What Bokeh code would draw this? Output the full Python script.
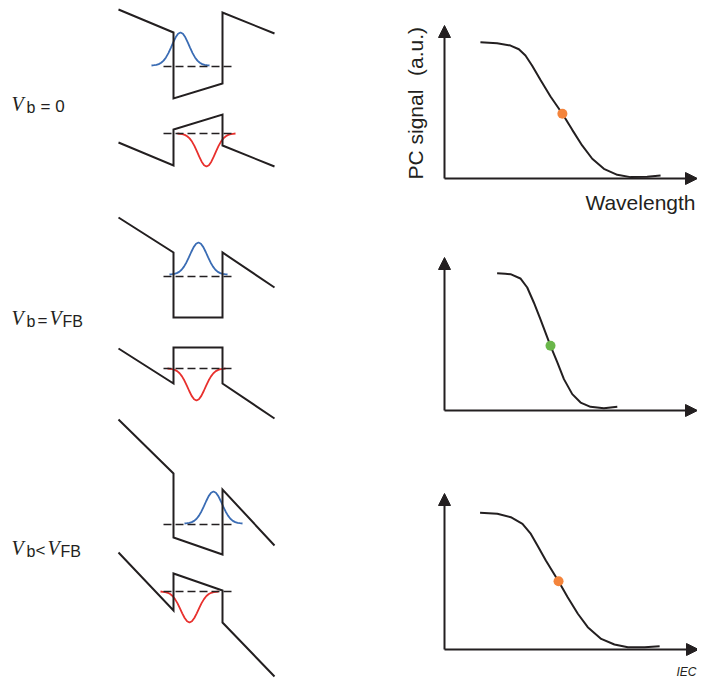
from math import pi
from bokeh.plotting import figure
from bokeh.models import Range1d, Arrow, NormalHead
from bokeh.core.properties import value
from bokeh.embed import file_html
from bokeh.resources import INLINE

# ---------------- data ----------------
# Band-edge diagrams (three bias cases), page-pixel scale of the schematic
BAND_X = [118, 173, 173, 222, 222, 274]
CB_LEVELS = [
    [9, 32, 98, 83, 12, 33],
    [217, 252, 317, 317, 252, 287],
    [419, 473, 537, 554, 489, 545],
]
VB_LEVELS = [
    [142, 165, 129, 114, 145, 166],
    [348, 383, 347, 347, 383, 418],
    [552, 610, 573, 590, 622, 676],
]
FERMI_X = [163, 233]
FERMI_CB = [66, 276, 524]
FERMI_VB = [133, 368, 591]

# wavefunction envelope (relative amplitude across the packet)
WF_PROFILE = [0.0, 0.009, 0.02, 0.042, 0.082, 0.147, 0.245, 0.376, 0.535, 0.703, 0.855, 0.961, 1.0,
              0.961, 0.855, 0.703, 0.535, 0.376, 0.245, 0.147, 0.082, 0.042, 0.02, 0.009, 0.0]
WF_HALF_WIDTH = 29
ELECTRON_CENTER = [180, 198, 213]
ELECTRON_BASE = [65, 274, 523]
ELECTRON_AMP = [33, 32, 32]
HOLE_CENTER = [206, 196, 189]
HOLE_BASE = [133, 368, 591]
HOLE_AMP = [33, 32, 31]

# PC signal vs wavelength (axis units, 0..100)
WAVELENGTH = [
    [14.2, 20.8, 26.1, 29.4, 32.0, 34.6, 37.9, 41.9, 46.6, 50.5, 54.4, 58.4, 63.0, 68.3, 73.5, 80.1, 85.4],
    [20.8, 24.0, 26.1, 30.0, 32.7, 35.3, 37.9, 41.9, 44.6, 47.2, 50.5, 53.8, 57.7, 63.0, 68.3],
    [14.0, 20.8, 26.1, 30.7, 34.0, 36.6, 39.9, 44.9, 48.5, 52.5, 56.4, 61.7, 66.9, 72.2, 78.8, 84.7],
]
PC_SIGNAL = [
    [89.1, 88.4, 86.9, 84.5, 80.4, 73.9, 64.5, 53.6, 42.3, 31.8, 21.6, 12.9, 6.3, 2.4, 0.9, 1.1, 2.0],
    [89.7, 89.4, 89.1, 86.3, 80.4, 70.6, 59.7, 42.3, 31.4, 20.5, 10.7, 5.2, 2.4, 1.5, 2.4],
    [87.6, 87.0, 84.8, 80.6, 74.1, 66.7, 57.1, 43.8, 33.5, 22.9, 14.3, 6.8, 3.2, 1.5, 1.5, 2.1],
]
MARK_WAVELENGTH = [46.6, 41.9, 44.9]
MARK_SIGNAL = [42.3, 42.3, 43.8]
MARK_COLOR = ["#f4843b", "#6ab74a", "#f4843b"]

PANEL_ORIGIN = [(444, 178), (444, 410), (444, 649)]
PANEL_XLEN = [253, 253, 254]
PANEL_YLEN = [153, 153, 156]

BIAS_BASELINE = [111, 325, 555]
BIAS_RELATION = ["= 0", "=", "<"]
REL_X = [40, 37, 35]
V2_X = [0, 49, 47]
FB_X = [0, 62, 60]
X_LABEL = "Wavelength"
Y_LABEL_MAIN = "PC signal"
Y_LABEL_UNIT = "(a.u.)"

# ---------------- drawing ----------------
INK = "#231f20"
BLUE = "#3a6cb4"
RED = "#e8302d"
SANS = value("Liberation Sans")
SERIF = value("Liberation Serif")

X0, X1, Y0, Y1 = 0, 697, 678, 0
p = figure(width=697, height=678, x_range=Range1d(X0, X1), y_range=Range1d(Y0, Y1),
           toolbar_location=None, output_backend="svg", x_axis_type=None, y_axis_type=None,
           min_border=0, outline_line_color=None, background_fill_color="white",
           border_fill_color="white")
p.grid.visible = False


def label(x, y, s, size, font=SANS, style="normal", align="left", angle=0.0):
    # text renders ~0.37 em below its alphabetic anchor; compensate along glyph "down"
    off = 0.37 * size
    if angle:
        x = x - off
    else:
        y = y - off
    p.text([x], [y], text=[s], text_font=font, text_font_style=style,
           text_font_size=f"{size}px", text_color=INK, text_align=align,
           text_baseline="alphabetic", angle=angle)


t_grid = [(k - 12) / 12 for k in range(25)]

for i in range(3):
    # wavefunctions
    ex = [ELECTRON_CENTER[i] + WF_HALF_WIDTH * t for t in t_grid]
    ey = [ELECTRON_BASE[i] - ELECTRON_AMP[i] * w for w in WF_PROFILE]
    p.line(ex, ey, line_color=BLUE, line_width=1.8)
    hx = [HOLE_CENTER[i] + WF_HALF_WIDTH * t for t in t_grid]
    hy = [HOLE_BASE[i] + HOLE_AMP[i] * w for w in WF_PROFILE]
    p.line(hx, hy, line_color=RED, line_width=1.8)
    # bound levels
    p.line(FERMI_X, [FERMI_CB[i]] * 2, line_color=INK, line_width=1.6, line_dash="8 4")
    p.line(FERMI_X, [FERMI_VB[i]] * 2, line_color=INK, line_width=1.6, line_dash="8 4")
    # band edges
    p.line(BAND_X, CB_LEVELS[i], line_color=INK, line_width=2, line_join="miter")
    p.line(BAND_X, VB_LEVELS[i], line_color=INK, line_width=2, line_join="miter")

    # PC panels with their own ranges
    ox, oy = PANEL_ORIGIN[i]
    lx, ly = PANEL_XLEN[i], PANEL_YLEN[i]
    xr, yr = f"px{i}", f"py{i}"
    p.extra_x_ranges[xr] = Range1d((X0 - ox) * 100 / lx, (X1 - ox) * 100 / lx)
    p.extra_y_ranges[yr] = Range1d((oy - Y0) * 100 / ly, (oy - Y1) * 100 / ly)
    for (xe, ye) in [(100, 0), (0, 100)]:
        p.add_layout(Arrow(end=NormalHead(size=12, fill_color=INK, line_color=INK, line_width=1),
                           x_start=0, y_start=0, x_end=xe, y_end=ye, line_color=INK,
                           line_width=2, x_range_name=xr, y_range_name=yr))
    p.line(WAVELENGTH[i], PC_SIGNAL[i], line_color=INK, line_width=2,
           x_range_name=xr, y_range_name=yr)
    p.scatter([MARK_WAVELENGTH[i]], [MARK_SIGNAL[i]], size=10, fill_color=MARK_COLOR[i],
              line_color=None, x_range_name=xr, y_range_name=yr)

    # bias labels
    yb = BIAS_BASELINE[i]
    label(11, yb, "V", 20, font=SERIF, style="italic")
    label(26, yb + 2, "b", 16)
    label(REL_X[i], yb + 1, BIAS_RELATION[i], 17)
    if i > 0:
        label(V2_X[i], yb, "V", 20, font=SERIF, style="italic")
        label(FB_X[i], yb + 2, "FB", 16)

label(695, 210, X_LABEL, 21, align="right")
label(423, 179, Y_LABEL_MAIN, 21, align="left", angle=pi / 2)
label(423, 51, Y_LABEL_UNIT, 21, align="center", angle=pi / 2)
label(696, 676, "IEC", 12, style="italic", align="right")

open("out.html", "w").write(file_html(p, INLINE))
